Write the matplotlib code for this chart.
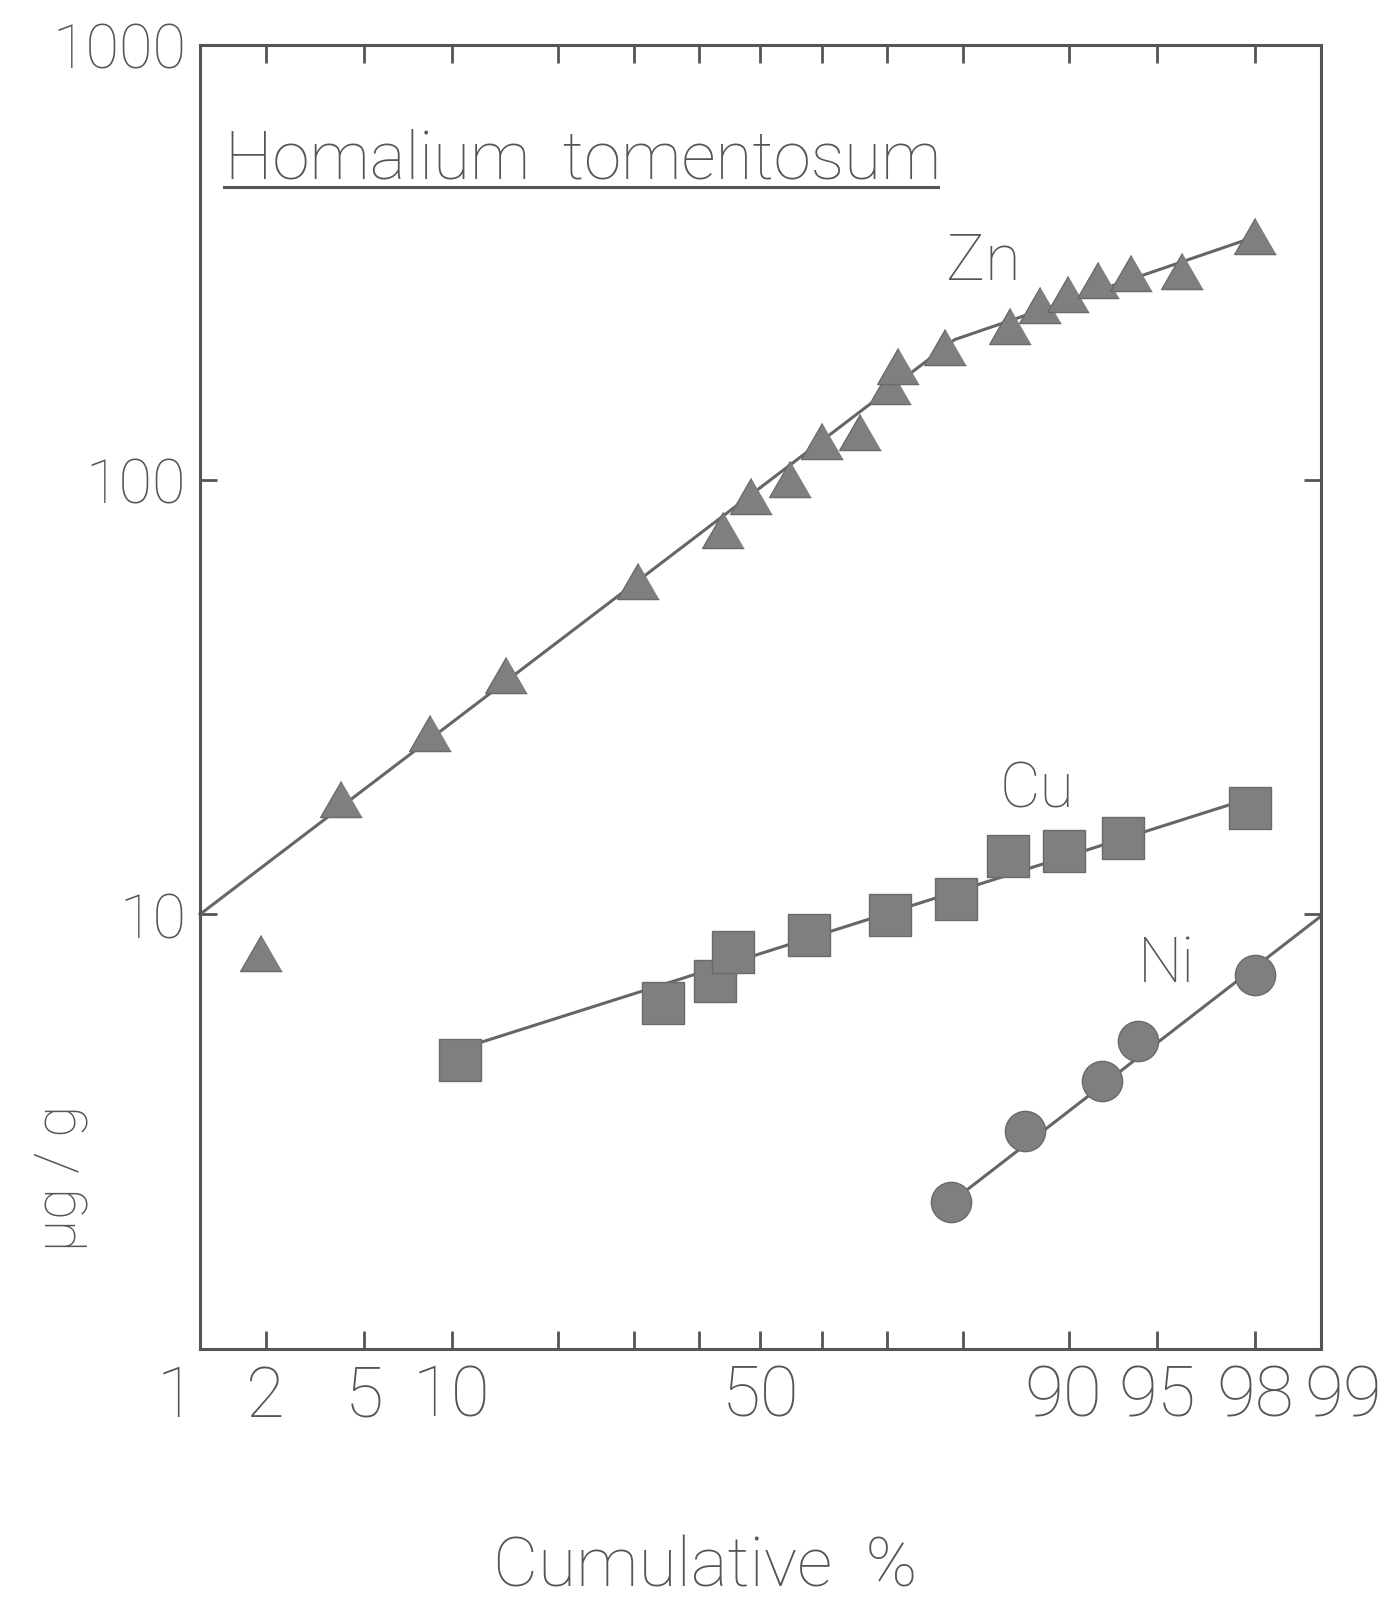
# probability plot of metal concentrations in Homalium tomentosum leaves
# x: cumulative percent on a normal probability scale, y: concentration (log)

from statistics import NormalDist
import numpy as np
import matplotlib
matplotlib.use('Agg')
import matplotlib.pyplot as plt
from matplotlib.ticker import NullLocator
from matplotlib.transforms import ScaledTranslation

# Zn samples (cumulative %, ug/g)
zn_pct = [1.9, 4.1, 8.5, 14.5, 30.5, 43.8, 48.5, 54.9, 60.0, 66.0,
          70.4, 71.6, 77.8, 85.0, 87.7, 89.9, 91.95, 93.8, 96.0, 98.0]
zn_val = [8.15, 18.4, 26.1, 35.5, 58.4, 76.7, 91.6, 100.4, 123, 129,
          164.5, 182.3, 202, 225.7, 252, 267.4, 288.4, 299.5, 302.6, 363.6]

# Cu samples
cu_pct = [10.6, 34.3, 42.5, 45.5, 58.0, 70.4, 79.2, 84.8, 89.6, 93.4, 97.9]
cu_val = [4.62, 6.25, 7.04, 8.18, 8.95, 9.98, 10.85, 13.6, 14.0, 14.96, 17.6]

# Ni samples
ni_pct = [78.6, 86.4, 92.2, 94.15, 98.0]
ni_val = [2.18, 3.18, 4.14, 5.12, 7.25]

# hand fitted lines
zn_fit_pct = [1, 79, 98]
zn_fit_val = [10, 210, 362]
cu_fit_pct = [10.6, 97.9]
cu_fit_val = [4.9, 18.5]
ni_fit_pct = [78.6, 99]
ni_fit_val = [2.18, 9.9]

# axis ticks
x_ticks = [1, 2, 5, 10, 20, 30, 40, 50, 60, 70, 80, 90, 95, 98, 99]
x_labels = ['1', '2', '5', '10', '', '', '', '50', '', '', '', '90', '95', '98', '99']
y_ticks = [10, 100, 1000]
y_labels = ['10', '100', '1000']

nd = NormalDist()


def probit(p):
    p = np.clip(np.asarray(p, dtype=float), 1e-6, 100 - 1e-6)
    return np.vectorize(lambda v: nd.inv_cdf(v / 100.0), otypes=[float])(p)


def inv_probit(z):
    z = np.asarray(z, dtype=float)
    return np.vectorize(lambda v: nd.cdf(v) * 100.0, otypes=[float])(z)


ink = '#555555'
line_col = '#666666'
fill = '#7f7f7f'
font = ['Roboto', 'DejaVu Sans']

plt.rcParams['font.family'] = font
plt.rcParams['font.weight'] = 'light'

fig = plt.figure(figsize=(13.89, 16.06), dpi=100)
ax = fig.add_axes([0.144, 0.1594, 0.807, 0.812])

ax.set_xscale('function', functions=(probit, inv_probit))
ax.set_yscale('log')
ax.set_xlim(1, 99)
ax.set_ylim(1, 1000)

# fitted lines
ax.plot(zn_fit_pct, zn_fit_val, color=line_col, lw=2.2, zorder=2, clip_on=False)
ax.plot(cu_fit_pct, cu_fit_val, color=line_col, lw=2.2, zorder=2, clip_on=False)
ax.plot(ni_fit_pct, ni_fit_val, color=line_col, lw=2.2, zorder=2, clip_on=False)

# points
tri = [(0, 0.866), (-1, -0.866), (1, -0.866)]
ax.plot(zn_pct, zn_val, ls='none', marker=tri, ms=30, mfc=fill, mec='#6a6a6a',
        mew=1, zorder=3)
ax.plot(cu_pct, cu_val, ls='none', marker='s', ms=30, mfc=fill, mec='#6a6a6a',
        mew=1, zorder=3)
ax.plot(ni_pct, ni_val, ls='none', marker='o', ms=29, mfc=fill, mec='#6a6a6a',
        mew=1, zorder=3)

# element names
ax.text(82.3, 318, 'Zn', fontsize=47, color=ink, ha='center', va='center')
ax.text(87.4, 19.4, 'Cu', fontsize=45, color=ink, ha='center', va='center')
ax.text(95.4, 7.7, 'Ni', fontsize=45, color=ink, ha='center', va='center')

# species name, underlined
ax.text(0.022, 0.898, 'Homalium  tomentosum', transform=ax.transAxes,
        fontsize=48.5, color=ink, ha='left', va='baseline')
ax.plot([0.021, 0.658], [0.891, 0.891], transform=ax.transAxes,
        color=ink, lw=2.2, clip_on=False)

# ticks
ax.set_xticks(x_ticks)
ax.set_xticklabels(x_labels)
ax.set_yticks(y_ticks)
ax.set_yticklabels(y_labels)
ax.xaxis.set_minor_locator(NullLocator())
ax.yaxis.set_minor_locator(NullLocator())
ax.tick_params(axis='x', which='major', direction='in', top=True, bottom=True,
               length=13, width=2, color=ink, labelcolor=ink, labelsize=51, pad=10)
ax.tick_params(axis='y', which='major', direction='in', left=True, right=True,
               length=12, width=2, color=ink, labelcolor=ink, labelsize=44, pad=10)

# end labels sit a bit outside the frame, 90 a little left of its tick
labs = ax.get_xticklabels()
labs[0].set_transform(labs[0].get_transform() +
                      ScaledTranslation(-0.24, 0, fig.dpi_scale_trans))
labs[11].set_transform(labs[11].get_transform() +
                       ScaledTranslation(-0.06, 0, fig.dpi_scale_trans))
labs[-1].set_transform(labs[-1].get_transform() +
                       ScaledTranslation(0.22, 0, fig.dpi_scale_trans))

for sp in ax.spines.values():
    sp.set_color(ink)
    sp.set_linewidth(2.2)

fig.text(705 / 1389, 1 - 1587 / 1606, 'Cumulative  %', fontsize=50, color=ink,
         ha='center', va='baseline')
fig.text(61 / 1389, 1 - 1178 / 1606, 'µg / g', fontsize=42, color=ink,
         ha='center', va='center', rotation=90)

fig.savefig('out.png', dpi=100, facecolor='white')
